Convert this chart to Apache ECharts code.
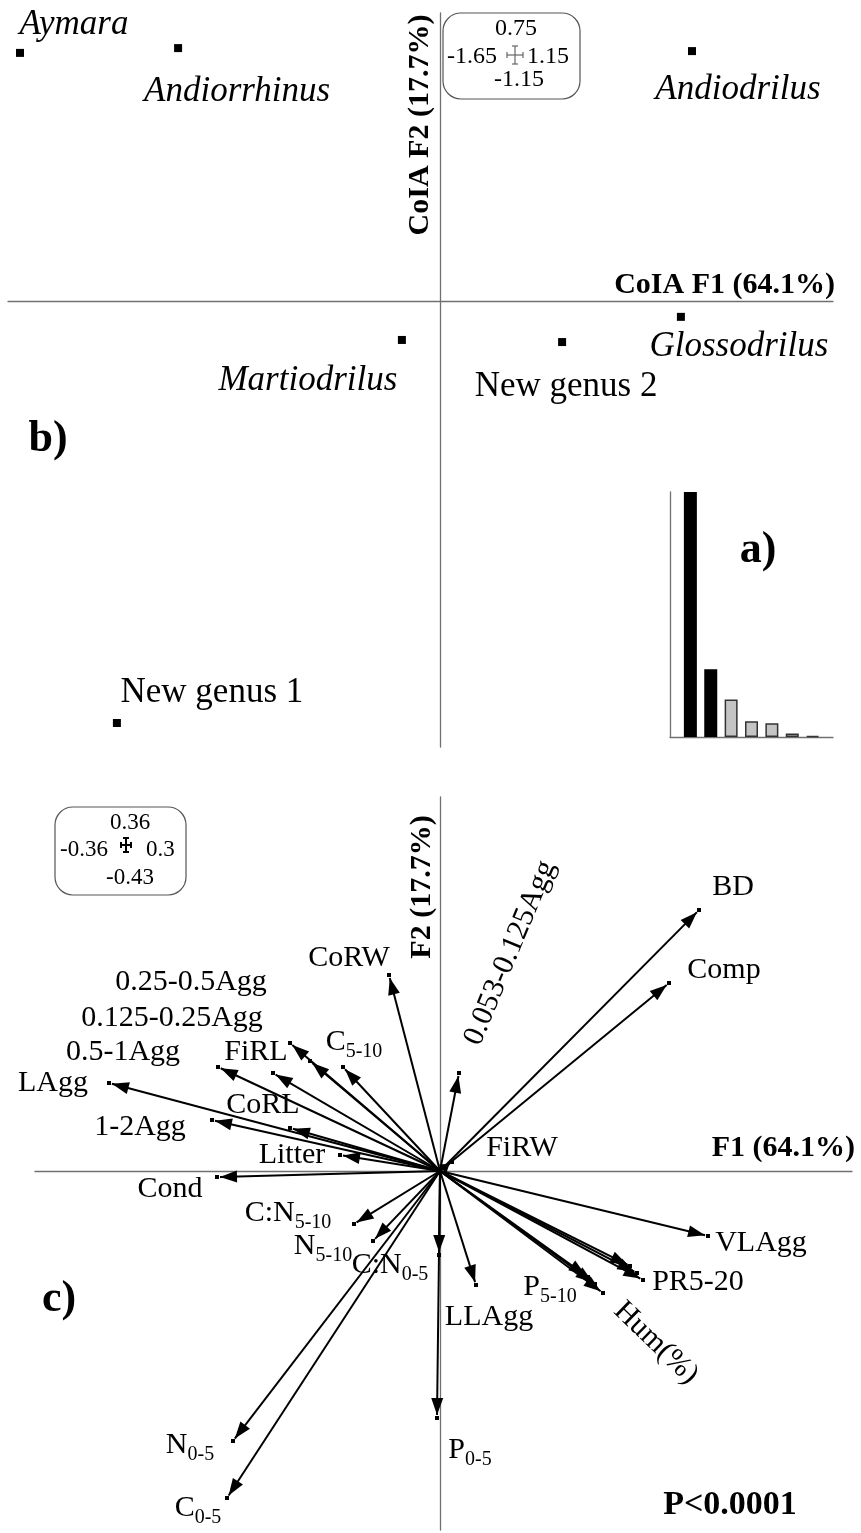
<!DOCTYPE html>
<html><head><meta charset="utf-8">
<script src="https://cdn.jsdelivr.net/npm/echarts@6/dist/echarts.min.js"></script>
<style>html,body{margin:0;padding:0;background:#fff}#c{width:861px;height:1533px}</style>
</head><body><div id="c"></div>
<script>
// ---------- DATA ----------
// b) Co-inertia: genus scores on F1 / F2
const speciesNames = ['Aymara','Andiorrhinus','Andiodrilus','Glossodrilus','New genus 2','Martiodrilus','New genus 1'];
const speciesF1 = [-1.400,-0.873,0.840,0.803,0.407,-0.127,-1.077];
const speciesF2 = [0.827,0.843,0.833,-0.053,-0.137,-0.130,-1.407];
const speciesItalic = [true,true,true,true,false,true,false];

// a) eigenvalues (% inertia)
const eigenPct = [64.1,17.7,9.8,4.1,3.6,0.9,0.3];
const keptAxes = 2;

// c) environmental variable arrows (tips on F1 / F2)
const varF1 = [-0.051,-0.150,-0.130,-0.222,-0.167,-0.097,-0.331,-0.228,-0.150,-0.100,-0.223,0.019,0.012,0.259,0.229,0.268,0.203,0.197,0.190,0.155,0.163,0.148,0.036,-0.001,-0.003,-0.207,-0.213,-0.086,-0.067];
const varF2 = [0.196,0.128,0.110,0.104,0.098,0.104,0.088,0.051,0.043,0.016,-0.006,0.098,0.009,0.261,0.188,-0.065,-0.109,-0.102,-0.095,-0.113,-0.122,-0.106,-0.114,-0.084,-0.247,-0.270,-0.327,-0.053,-0.070];

// c) variable labels
const labelText = ['CoRW','0.25-0.5Agg','0.125-0.25Agg','0.5-1Agg','FiRL','LAgg','CoRL','1-2Agg',
  '{m|C}{s|5-10}','Litter','Cond','{m|C:N}{s|5-10}','{m|N}{s|5-10}','{m|C:N}{s|0-5}','LLAgg','{m|P}{s|5-10}',
  'Hum(%)','PR5-20','VLAgg','FiRW','0.053-0.125Agg','BD','Comp','{m|N}{s|0-5}','{m|C}{s|0-5}','{m|P}{s|0-5}'];
const labelF1 = [-0.091,-0.249,-0.268,-0.317,-0.184,-0.387,-0.177,-0.300,-0.086,-0.148,-0.270,-0.152,-0.117,-0.050,0.049,0.110,0.216,0.258,0.321,0.082,0.070,0.293,0.284,-0.250,-0.242,0.030];
const labelF2 = [0.213,0.189,0.153,0.119,0.119,0.088,0.066,0.044,0.129,0.016,-0.018,-0.042,-0.075,-0.094,-0.146,-0.116,-0.172,-0.111,-0.072,0.023,0.218,0.284,0.201,-0.274,-0.337,-0.279];
const labelAngle = [0,0,0,0,0,0,0,0,0,0,0,0,0,0,0,0,-44,0,0,0,67.5,0,0,0,0,0];

// ---------- LAYOUT / STYLE ----------
const speciesLabelOffset = [[54,-28],[59,44],[46,39],[58,30],[4,45],[-94,41],[95,-30]];
const SERIF = '"Liberation Serif","Times New Roman",serif';
const axisStyle = {show:true,onZero:true,lineStyle:{color:'#707070',width:1.3}};
function plainAxis(extra){
  return Object.assign({type:'value',axisLine:axisStyle,axisTick:{show:false},axisLabel:{show:false},splitLine:{show:false}},extra);
}

function renderArrow(params, api){
  const p1 = api.coord([api.value(0), api.value(1)]);
  const p0 = api.coord([0,0]);
  const dx=p1[0]-p0[0], dy=p1[1]-p0[1];
  const len=Math.hypot(dx,dy)||1; const ux=dx/len, uy=dy/len;
  const back=3, hl=Math.min(17,len*0.6), hw=6;
  const tx=p1[0]-ux*back, ty=p1[1]-uy*back;
  const bx=tx-ux*hl, by=ty-uy*hl;
  const nx=-uy, ny=ux;
  return {type:'group', children:[
    {type:'line', shape:{x1:p0[0],y1:p0[1],x2:tx,y2:ty}, style:{stroke:'#000',lineWidth:2}},
    {type:'polygon', shape:{points:[[tx,ty],[bx+nx*hw,by+ny*hw],[bx-nx*hw,by-ny*hw]]}, style:{fill:'#000'}},
    {type:'rect', shape:{x:p1[0]-2,y:p1[1]-2,width:4,height:4}, style:{fill:'#000'}}
  ]};
}
const richSub = {
  m:{fontFamily:'Liberation Serif',fontSize:30,lineHeight:30,verticalAlign:'top',color:'#000'},
  s:{fontFamily:'Liberation Serif',fontSize:20,lineHeight:20,padding:[15,0,0,0],verticalAlign:'top',color:'#000'}
};
function renderLabel(params, api){
  const i = params.dataIndex;
  const p = api.coord([api.value(0), api.value(1)]);
  return {type:'text', x:p[0], y:p[1], rotation: labelAngle[i]*Math.PI/180,
    style:{text:labelText[i], font:'30px '+SERIF, fill:'#000', align:'center', verticalAlign:'middle',
      textAlign:'center', textVerticalAlign:'middle', rich:richSub}};
}

function txt(x,y,text,font,align,rot,color){
  return {type:'text', x:x, y:y, rotation:rot||0, silent:true,
    style:{text:text, font:font, fill:color||'#000', align:align||'center', verticalAlign:'middle',
      textAlign:align||'center', textVerticalAlign:'middle'}};
}
function crossMark(cx,cy,hx,hy,tk,color,w){
  const s={stroke:color,lineWidth:w};
  return [
    {type:'line',silent:true,shape:{x1:cx-hx,y1:cy,x2:cx+hx,y2:cy},style:s},
    {type:'line',silent:true,shape:{x1:cx,y1:cy-hy,x2:cx,y2:cy+hy},style:s},
    {type:'line',silent:true,shape:{x1:cx-hx,y1:cy-tk,x2:cx-hx,y2:cy+tk},style:s},
    {type:'line',silent:true,shape:{x1:cx+hx,y1:cy-tk,x2:cx+hx,y2:cy+tk},style:s},
    {type:'line',silent:true,shape:{x1:cx-tk,y1:cy-hy,x2:cx+tk,y2:cy-hy},style:s},
    {type:'line',silent:true,shape:{x1:cx-tk,y1:cy+hy,x2:cx+tk,y2:cy+hy},style:s}
  ];
}

const chart = echarts.init(document.getElementById('c'), null, {renderer:'canvas'});
const option = {
  backgroundColor:'#fff',
  animation:false,
  grid:[
    {left:8,right:28,top:13,bottom:786},
    {left:35,right:9,top:797,bottom:3},
    {left:670,right:28,top:492,bottom:796}
  ],
  xAxis:[
    plainAxis({gridIndex:0,min:-1.44,max:1.31}),
    plainAxis({gridIndex:1,min:-0.405,max:0.412}),
    plainAxis({gridIndex:2,min:0,max:8,axisLine:{show:true,onZero:false,lineStyle:{color:'#707070',width:1.3}}})
  ],
  yAxis:[
    plainAxis({gridIndex:0,min:-1.487,max:0.96}),
    plainAxis({gridIndex:1,min:-0.359,max:0.374}),
    plainAxis({gridIndex:2,min:0,max:64.1,axisLine:{show:true,onZero:false,lineStyle:{color:'#707070',width:1.3}}})
  ],
  series:[
    {type:'scatter', xAxisIndex:0, yAxisIndex:0, symbol:'rect', symbolSize:8, itemStyle:{color:'#000',opacity:1},
      emphasis:{disabled:true},
      data: speciesNames.map((n,i)=>({value:[speciesF1[i],speciesF2[i]], name:n,
        label:{show:true, position:'inside', formatter:n, offset:speciesLabelOffset[i],
          fontFamily:SERIF, fontSize:35, fontStyle: speciesItalic[i]?'italic':'normal', color:'#000',
          textBorderWidth:0, textShadowBlur:0, opacity:1}}))
    },
    {type:'bar', xAxisIndex:2, yAxisIndex:2, barWidth:13,
      data: eigenPct.map((v,i)=>({value:[i+1,v], itemStyle: i<keptAxes ? {color:'#000'} : {color:'#c4c4c4',borderColor:'#333',borderWidth:1.5}}))
    },
    {type:'custom', xAxisIndex:1, yAxisIndex:1, silent:true, renderItem:renderArrow,
      data: varF1.map((x,i)=>[x,varF2[i]])},
    {type:'custom', xAxisIndex:1, yAxisIndex:1, silent:true, renderItem:renderLabel,
      data: labelF1.map((x,i)=>[x,labelF2[i]])}
  ],
  graphic:[
    txt(835,285,'CoIA F1 (64.1%)','bold 30px '+SERIF,'right'),
    txt(420,125,'CoIA F2 (17.7%)','bold 30px '+SERIF,'center',Math.PI/2),
    txt(855,1148,'F1 (64.1%)','bold 30px '+SERIF,'right'),
    txt(422,887,'F2 (17.7%)','bold 30px '+SERIF,'center',Math.PI/2),
    txt(758,551,'a)','bold 44px '+SERIF),
    txt(48,440,'b)','bold 44px '+SERIF),
    txt(59,1300,'c)','bold 44px '+SERIF),
    txt(730,1505,'P<0.0001','bold 34px '+SERIF),
    {type:'rect',silent:true,shape:{x:443,y:13,width:137,height:86,r:18},style:{fill:'none',stroke:'#555',lineWidth:1.2}},
    txt(516,29,'0.75','24px '+SERIF),
    txt(497,57,'-1.65','24px '+SERIF,'right'),
    txt(527,57,'1.15','24px '+SERIF,'left'),
    txt(519,80,'-1.15','24px '+SERIF),
    ...crossMark(515,55,8,9,3,'#666',1.2),
    {type:'rect',silent:true,shape:{x:55,y:807,width:131,height:88,r:18},style:{fill:'none',stroke:'#555',lineWidth:1.2}},
    txt(130,823,'0.36','23px '+SERIF),
    txt(108,850,'-0.36','23px '+SERIF,'right'),
    txt(146,850,'0.3','23px '+SERIF,'left'),
    txt(130,878,'-0.43','23px '+SERIF),
    ...crossMark(126,845,5,7,3,'#000',2)
  ]
};
chart.setOption(option);
</script></body></html>
